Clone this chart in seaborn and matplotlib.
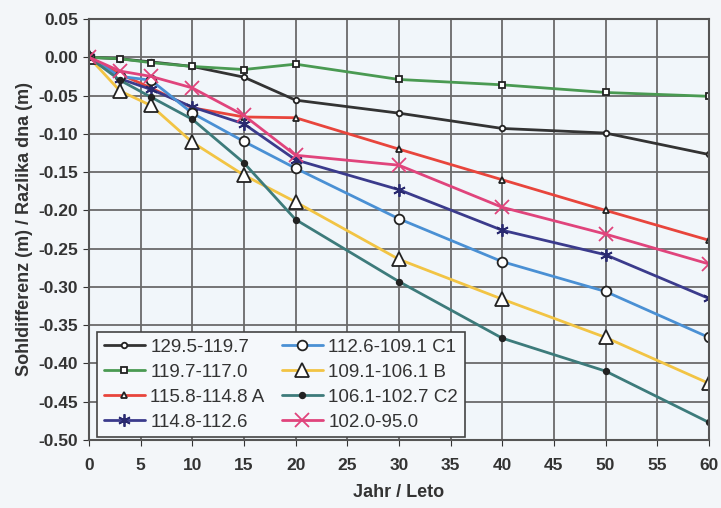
import pandas as pd
import seaborn as sns
import matplotlib.pyplot as plt

years = [0, 3, 6, 10, 15, 20, 30, 40, 50, 60]

labels = ["129.5-119.7", "119.7-117.0", "115.8-114.8 A", "114.8-112.6",
          "112.6-109.1 C1", "109.1-106.1 B", "106.1-102.7 C2", "102.0-95.0"]

s_129 = [0, -0.002, -0.006, -0.012, -0.026, -0.056, -0.073, -0.093, -0.099, -0.127]
s_119 = [0, -0.002, -0.007, -0.012, -0.016, -0.009, -0.029, -0.036, -0.046, -0.051]
s_115 = [0, -0.022, -0.040, -0.066, -0.078, -0.079, -0.120, -0.160, -0.200, -0.239]
s_114 = [0, -0.028, -0.042, -0.065, -0.087, -0.134, -0.173, -0.226, -0.258, -0.315]
s_112 = [0, -0.025, -0.030, -0.073, -0.110, -0.145, -0.211, -0.267, -0.306, -0.366]
s_109 = [0, -0.044, -0.063, -0.111, -0.154, -0.189, -0.264, -0.316, -0.366, -0.426]
s_106 = [0, -0.030, -0.052, -0.081, -0.138, -0.212, -0.293, -0.367, -0.410, -0.477]
s_102 = [0, -0.018, -0.025, -0.040, -0.076, -0.128, -0.141, -0.196, -0.231, -0.270]

series = [s_129, s_119, s_115, s_114, s_112, s_109, s_106, s_102]

colors = ["#333333", "#4a9a52", "#e8453c", "#3b3b8c",
          "#4a90d4", "#f2c444", "#3d7b7b", "#e0447c"]
# marker, size, facecolor
styles = [("o", 4, "white"), ("s", 5, "white"), ("^", 5, "white"), ((6, 2, 0), 9, "none"),
          ("o", 7, "white"), ("^", 10, "white"), ("o", 4, "#222222"), ("x", 10, "none")]

sns.set_style("white")
plt.rcParams["font.family"] = ["Liberation Sans", "DejaVu Sans"]
plt.rcParams["font.weight"] = "bold"

fig = plt.figure(figsize=(7.21, 5.08), dpi=100, facecolor="#f3f6f9")
ax = fig.add_axes([0.1234, 0.1339, 0.8597, 0.8287])
ax.set_facecolor("#f1f6fa")

for lab, vals, col, (mk, ms, fc) in zip(labels, series, colors, styles):
    df = pd.DataFrame({"Jahr": years, "Wert": vals})
    edge = "#222222" if mk != "x" and mk != (6, 2, 0) else col
    if mk == (6, 2, 0):
        edge = "#2a2a70"
    sns.lineplot(data=df, x="Jahr", y="Wert", ax=ax, color=col, linewidth=2,
                 marker=mk, markersize=ms, markerfacecolor=fc,
                 markeredgecolor=edge, markeredgewidth=1.3, label=lab)

ax.set_xlim(0, 60)
ax.set_ylim(-0.50, 0.05)
ax.set_xticks(range(0, 61, 5))
ax.set_yticks([0.05 - 0.05 * i for i in range(12)])
ax.set_yticklabels([f"{0.05 - 0.05 * i:.2f}".replace("-0.00", "0.00") for i in range(12)])
ax.grid(True, color="#6a6a6a", linewidth=1.3)
for sp in ax.spines.values():
    sp.set_color("#555555")
    sp.set_linewidth(1.5)
ax.tick_params(axis="both", labelsize=12.5, colors="#333333", length=4,
               direction="out", bottom=True, left=True)
ax.tick_params(axis="x", pad=9)
ax.tick_params(axis="y", pad=4)
ax.set_xlabel("Jahr / Leto", fontsize=13, fontweight="bold", color="#333333",
              labelpad=8)
ax.set_ylabel("Sohldifferenz (m) / Razlika dna (m)", fontsize=13,
              fontweight="bold", color="#333333", labelpad=4)

leg = ax.legend(loc="lower left", ncol=2, fontsize=13.5, frameon=True,
                fancybox=False, edgecolor="#444444", facecolor="#f5f8fb",
                framealpha=1, handlelength=2.2, columnspacing=0.9,
                labelspacing=0.42, borderpad=0.35, handletextpad=0.3,
                borderaxespad=0, bbox_to_anchor=(0.013, 0.006))
leg.get_frame().set_linewidth(1.2)
for t in leg.get_texts():
    t.set_color("#333333")
    t.set_fontweight("normal")

fig.savefig("out.png", dpi=100, facecolor=fig.get_facecolor())
